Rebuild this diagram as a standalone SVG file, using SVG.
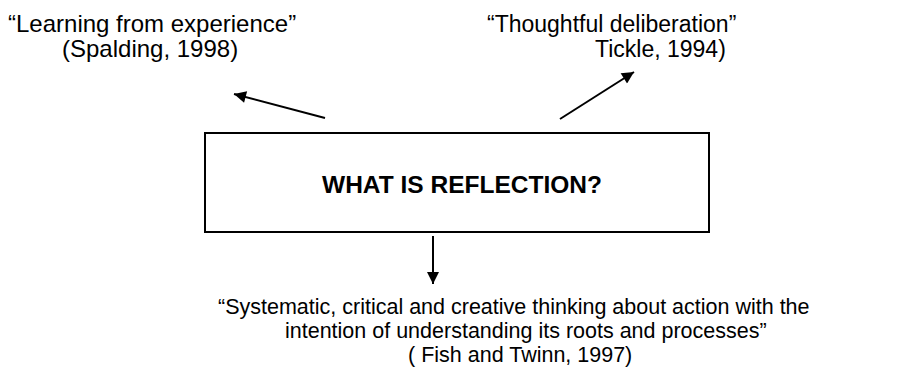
<svg xmlns="http://www.w3.org/2000/svg" width="901" height="374" viewBox="0 0 901 374">
<style>
text { font-family: "Liberation Sans", Arial, sans-serif; fill: #000; }
.t { font-size: 24px; }
.s { font-size: 21.5px; }
.b { font-size: 24.5px; font-weight: bold; }
.c { stroke: #000; stroke-width: 2; fill: none; }
</style>
<defs>
<marker id="ah" viewBox="0 0 10 10" refX="10" refY="5" markerWidth="6.5" markerHeight="6" markerUnits="strokeWidth" orient="auto">
<path d="M0,0 L10,5 L0,10 Z" fill="#000"/>
</marker>
</defs>
<rect width="901" height="374" fill="#fff"/>
<g id="connectors">
<line class="c" x1="325" y1="118" x2="234" y2="94" marker-end="url(#ah)"/>
<line class="c" x1="560" y1="119" x2="634" y2="72" marker-end="url(#ah)"/>
<line class="c" x1="433" y1="236" x2="433" y2="284" marker-end="url(#ah)"/>
</g>
<g id="n-learning">
<text class="t" x="8" y="32">“Learning from experience”</text>
<text class="t" x="62" y="57">(Spalding, 1998)</text>
</g>
<g id="n-thoughtful">
<text class="t" x="487" y="32" style="font-size:23px">“Thoughtful deliberation”</text>
<text class="t" x="595" y="57" style="font-size:23px">Tickle, 1994)</text>
</g>
<g id="n-reflection">
<rect x="205" y="133" width="504" height="99" fill="#fff" stroke="#000" stroke-width="2"/>
<text class="b" x="462" y="193" text-anchor="middle">WHAT IS REFLECTION?</text>
</g>
<g id="n-systematic">
<text class="s" x="218" y="314">“Systematic, critical and creative thinking about action with the</text>
<text class="s" x="285" y="338">intention of understanding its roots and processes”</text>
<text class="s" x="408" y="362">( Fish and Twinn, 1997)</text>
</g>
</svg>
